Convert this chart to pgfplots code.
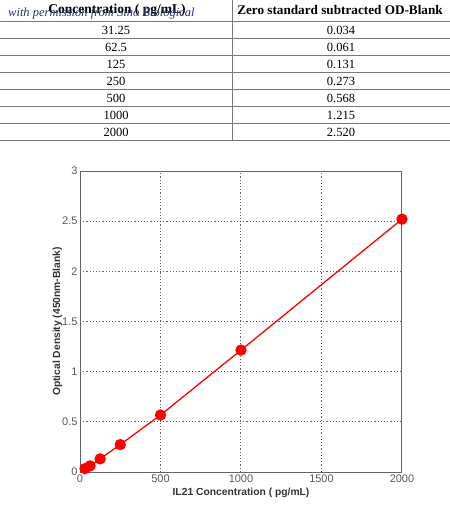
\documentclass[border=0pt]{standalone}
\usepackage{pgfplots}
\pgfplotsset{compat=1.18}
\usepackage{fontspec}
\setmainfont{Liberation Serif}
\newfontfamily\arial{Liberation Sans}
\definecolor{tblline}{RGB}{120,120,120}
\definecolor{wm}{RGB}{40,50,110}
\definecolor{axgray}{RGB}{100,100,100}
\begin{document}
\begin{tikzpicture}[x=1pt,y=1pt]
\useasboundingbox (0,0) rectangle (450,-531);
% table
\foreach \yy in {21.7,38.7,55.7,72.7,89.7,106.7,123.7,140.7}
  \draw[tblline,line width=0.9pt] (0,-\yy) -- (450,-\yy);
\draw[tblline,line width=1.3pt] (232.3,0) -- (232.3,-140.7);
\node[font=\bfseries\fontsize{13.5}{15}\selectfont] at (117,-10) {Concentration ( pg/mL)};
\node[font=\bfseries\fontsize{13.2}{15}\selectfont] at (340,-10) {Zero standard subtracted OD-Blank};
\node[font=\itshape\fontsize{12.5}{14}\selectfont,text=wm,anchor=base west,inner sep=0pt] at (8,-16) {with permission from Sino Biological};
\foreach \c/\v [count=\i] in {31.25/0.034,62.5/0.061,125/0.131,250/0.273,500/0.568,1000/1.215,2000/2.520}{
  \node[font=\fontsize{12.5}{14}\selectfont] at (116,{-21.7-17*\i+8.5}) {\c};
  \node[font=\fontsize{12.5}{14}\selectfont] at (341,{-21.7-17*\i+8.5}) {\v};
}
% plot
\begin{axis}[
  at={(80pt,-472pt)}, anchor=south west,
  scale only axis, width=322pt, height=301pt,
  xmin=0, xmax=2000, ymin=0, ymax=3,
  xtick={0,500,1000,1500,2000},
  ytick={0,0.5,1,1.5,2,2.5,3},
  yticklabels={0,0.5,1,1.5,2,2.5,3},
  xticklabels={0,500,1000,1500,2000},
  grid=major,
  major grid style={dash pattern=on 1.2pt off 2pt, axgray, line width=1pt},
  axis line style={axgray, line width=1pt},
  tick style={draw=none},
  tick label style={font=\arial\fontsize{11}{12}\selectfont, text=black!65},
  /pgf/number format/assume math mode=true,
  xticklabel style={yshift=1pt},
  yticklabel style={xshift=1pt},
  xlabel={IL21 Concentration ( pg/mL)},
  ylabel={Optical Density (450nm-Blank)},
  label style={font=\arial\bfseries\fontsize{10.3}{12}\selectfont, text=black!80},
  xlabel style={yshift=1pt},
  ylabel style={yshift=-7pt},
  clip=false,
]
\addplot[red, line width=1.3pt, mark=*, mark size=5pt, mark options={fill=red, draw=red}]
  coordinates {(31.25,0.034) (62.5,0.061) (125,0.131) (250,0.273) (500,0.568) (1000,1.215) (2000,2.520)};
\end{axis}
\end{tikzpicture}
\end{document}
